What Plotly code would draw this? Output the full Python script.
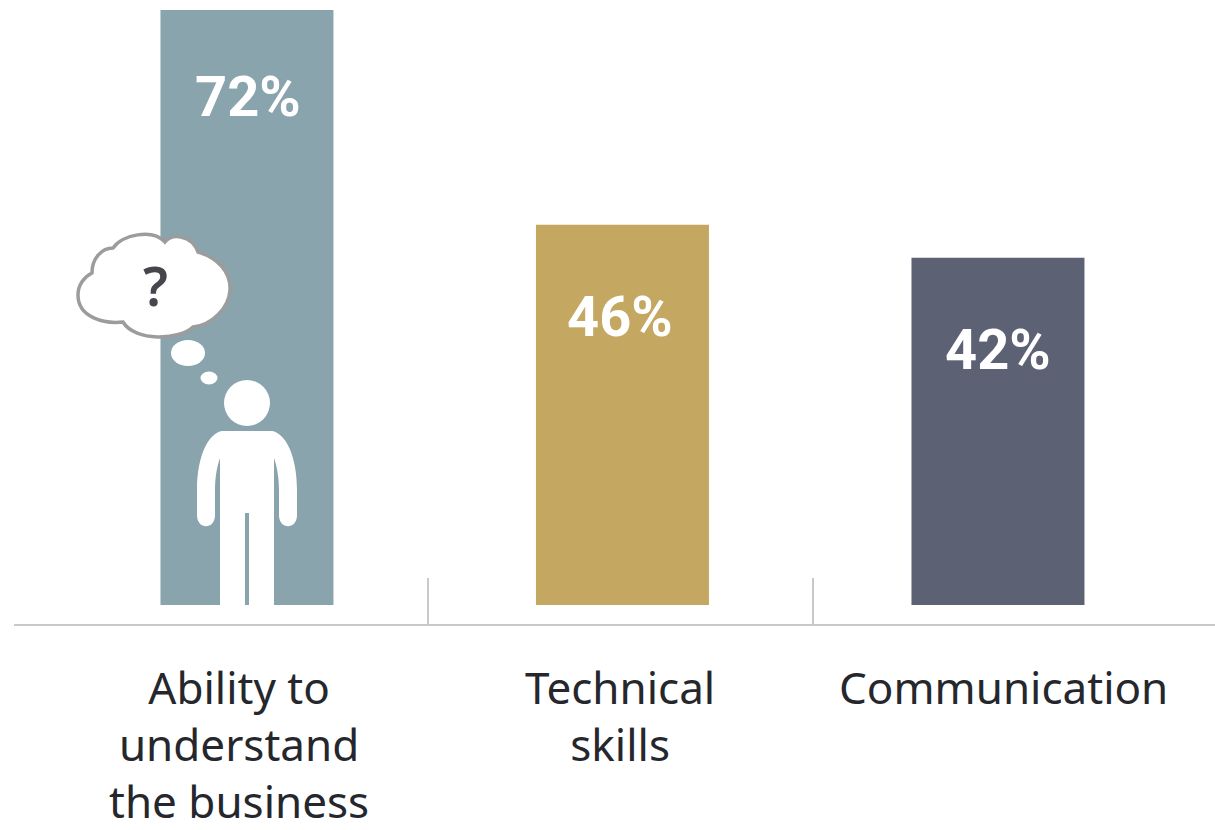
import re
import plotly.graph_objects as go

# Survey results
categories = ["Ability to understand the business", "Technical skills", "Communication"]
values = [72, 46, 42]
value_labels = ["72%", "46%", "42%"]
category_lines = ["Ability to<br>understand<br>the business", "Technical<br>skills", "Communication"]
bar_colors = ["#8AA4AD", "#C4A862", "#5C6274"]

WIDTH, HEIGHT = 1215, 830
LABEL_FONT = "Noto Sans"
VALUE_FONT = "Roboto"
LINE_COLOR = "#C9C9C9"


def px(x):
    return x / WIDTH


def py(y):
    return 1 - y / HEIGHT


def to_paper(path):
    """Convert an SVG path written in page pixels to paper fractions."""
    return re.sub(
        r"(-?[\d.]+),(-?[\d.]+)",
        lambda m: f"{px(float(m[1])):.5f},{py(float(m[2])):.5f}",
        path,
    )


def paper_shape(path, fill="white", line_color=None, line_width=0):
    return dict(
        type="path", xref="paper", yref="paper", path=to_paper(path),
        fillcolor=fill, line=dict(color=line_color or fill, width=line_width),
        layer="above",
    )


def paper_ellipse(cx, cy, rx, ry):
    return dict(
        type="circle", xref="paper", yref="paper",
        x0=px(cx - rx), x1=px(cx + rx), y0=py(cy + ry), y1=py(cy - ry),
        fillcolor="white", line=dict(width=0), layer="above",
    )


def paper_line(x0, y0, x1, y1):
    return dict(
        type="line", xref="paper", yref="paper",
        x0=px(x0), x1=px(x1), y0=py(y0), y1=py(y1),
        line=dict(color=LINE_COLOR, width=2),
    )


CLOUD = (
    "M 92,273 C 92,258 102,248 113,248 C 122,235 152,228 165,242 "
    "C 172,233 192,235 198,252 C 218,258 231,272 230,290 "
    "C 229,308 212,325 193,327 C 180,340 135,342 123,322 "
    "C 105,324 78,318 78,295 C 78,285 84,277 92,273 Z"
)
PERSON = (
    "M 222,431 L 272,431 C 285,433 297,455 297,490 L 297,515 "
    "C 297,530 279,530 279,515 L 279,490 C 279,478 277,466 274,458 "
    "L 274,607 L 249,607 L 249,513 L 245,513 L 245,607 L 220,607 L 220,458 "
    "C 217,466 215,478 215,490 L 215,515 C 215,530 197,530 197,515 "
    "L 197,490 C 197,455 209,433 222,431 Z"
)

fig = go.Figure(
    go.Bar(
        x=categories, y=values, width=0.4607,
        marker=dict(color=bar_colors, line=dict(width=0)),
        hoverinfo="skip",
    )
)

annotations = [
    dict(
        x=cat, y=val, xref="x", yref="y", text=label, showarrow=False,
        yshift=shift_y, xshift=shift_x, yanchor="middle",
        font=dict(family=VALUE_FONT, size=56, color="white", weight="bold"),
    )
    for cat, val, label, shift_x, shift_y in zip(
        categories, values, value_labels, [1, -2, 0], [-87, -92, -92]
    )
]
annotations += [
    dict(
        x=px(x), y=py(655), xref="paper", yref="paper", text=text, showarrow=False,
        xanchor="center", yanchor="top", align="center",
        font=dict(family=LABEL_FONT, size=44, color="#25272D"),
    )
    for x, text in zip([239, 620, 1003], category_lines)
]
annotations.append(
    dict(
        x=px(155), y=py(285), xref="paper", yref="paper", text="?", showarrow=False,
        xanchor="center", yanchor="middle",
        font=dict(family=LABEL_FONT, size=54, color="#45474D", weight=600),
    )
)

fig.update_layout(
    width=WIDTH, height=HEIGHT,
    margin=dict(l=0, r=0, t=0, b=0),
    paper_bgcolor="white", plot_bgcolor="white",
    showlegend=False,
    xaxis=dict(
        type="category", categoryorder="array", categoryarray=categories,
        range=[-0.6577, 2.578], visible=False, fixedrange=True,
    ),
    yaxis=dict(range=[-27.23, 73.2], visible=False, fixedrange=True),
    annotations=annotations,
    shapes=[
        paper_line(14, 625, 1215, 625),
        paper_line(428, 578, 428, 625),
        paper_line(813, 578, 813, 625),
        paper_shape(CLOUD, line_color="#9C9C9C", line_width=3.5),
        paper_ellipse(188, 353, 17, 13),
        paper_ellipse(209, 378, 8.5, 6.5),
        paper_ellipse(247, 403, 23, 23),
        paper_shape(PERSON),
    ],
)

fig.write_html("out.html", config=dict(displayModeBar=False))
